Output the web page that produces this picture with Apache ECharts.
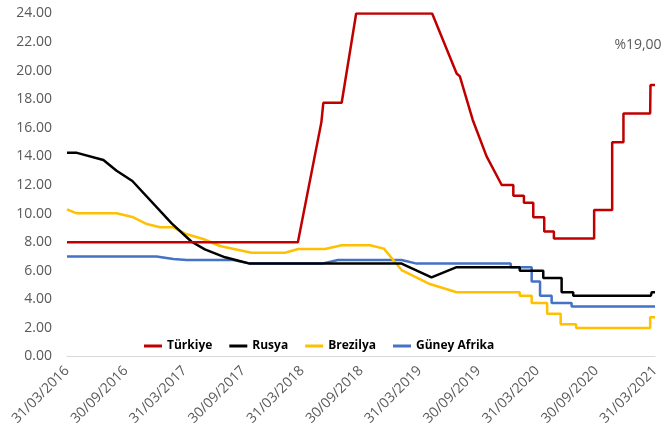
<!DOCTYPE html>
<html>
<head>
<meta charset="utf-8">
<script src="https://cdn.jsdelivr.net/npm/echarts@6/dist/echarts.min.js"></script>
<style>
html,body{margin:0;padding:0;background:#fff;}
#c{width:665px;height:441px;}
</style>
</head>
<body>
<div id="c"></div>
<script>
// ---- data ----
var seriesNames = ['Türkiye', 'Rusya', 'Brezilya', 'Güney Afrika'];
var tickLabels = ['31/03/2016','30/09/2016','31/03/2017','30/09/2017','31/03/2018','30/09/2018',
                  '31/03/2019','30/09/2019','31/03/2020','30/09/2020','31/03/2021'];
var yTicks = [0, 24, 2];

var turkiye = [
  ['2016-03-31', 8], ['2018-03-18', 8], ['2018-05-30', 16.4], ['2018-06-05', 17.75],
  ['2018-08-01', 17.75], ['2018-09-15', 24], ['2019-05-09', 24], ['2019-07-24', 19.8],
  ['2019-08-03', 19.6], ['2019-09-12', 16.55], ['2019-10-25', 14.0], ['2019-12-11', 12.0],
  ['2020-01-16', 12.0], ['2020-01-16', 11.25], ['2020-02-18', 11.25], ['2020-02-18', 10.75],
  ['2020-03-18', 10.75], ['2020-03-18', 9.75], ['2020-04-21', 9.75], ['2020-04-21', 8.75],
  ['2020-05-21', 8.75], ['2020-05-21', 8.25], ['2020-09-23', 8.25], ['2020-09-23', 10.25],
  ['2020-11-18', 10.25], ['2020-11-18', 15], ['2020-12-23', 15], ['2020-12-23', 17],
  ['2021-03-16', 17], ['2021-03-17', 19], ['2021-03-31', 19]
];
var rusya = [
  ['2016-03-31', 14.25], ['2016-05-01', 14.25], ['2016-07-22', 13.75], ['2016-09-01', 13.0],
  ['2016-10-20', 12.28], ['2017-02-19', 9.32], ['2017-04-22', 8.03], ['2017-06-02', 7.5],
  ['2017-08-04', 6.94], ['2017-10-20', 6.5], ['2019-02-03', 6.5], ['2019-05-07', 5.54],
  ['2019-07-24', 6.25], ['2020-02-05', 6.25], ['2020-02-05', 6.0], ['2020-04-18', 6.0],
  ['2020-04-18', 5.5], ['2020-06-14', 5.5], ['2020-06-14', 4.5], ['2020-07-20', 4.5],
  ['2020-07-20', 4.25], ['2021-03-18', 4.25], ['2021-03-21', 4.5], ['2021-03-31', 4.5]
];
var brezilya = [
  ['2016-03-31', 10.3], ['2016-04-30', 10.02], ['2016-09-01', 10.02], ['2016-10-23', 9.74],
  ['2016-12-04', 9.27], ['2017-01-14', 9.04], ['2017-02-24', 9.04], ['2017-04-07', 8.55],
  ['2017-05-28', 8.22], ['2017-07-19', 7.73], ['2017-10-25', 7.26], ['2018-02-06', 7.26],
  ['2018-03-19', 7.52], ['2018-06-10', 7.52], ['2018-08-01', 7.78], ['2018-10-28', 7.78],
  ['2018-12-10', 7.55], ['2019-02-03', 6.05], ['2019-05-02', 5.07], ['2019-07-24', 4.5],
  ['2020-02-05', 4.5], ['2020-02-05', 4.25], ['2020-03-13', 4.25], ['2020-03-13', 3.75],
  ['2020-04-30', 3.75], ['2020-04-30', 3.0], ['2020-06-11', 3.0], ['2020-06-11', 2.25],
  ['2020-07-29', 2.25], ['2020-07-29', 2.0], ['2021-03-16', 2.0], ['2021-03-16', 2.75],
  ['2021-03-31', 2.75]
];
var guneyAfrika = [
  ['2016-03-31', 7.0], ['2017-01-03', 7.0], ['2017-02-24', 6.82], ['2017-04-07', 6.75],
  ['2017-08-29', 6.75], ['2017-10-20', 6.5], ['2018-05-31', 6.5], ['2018-07-21', 6.75],
  ['2019-02-03', 6.75], ['2019-03-22', 6.5], ['2020-01-08', 6.5], ['2020-01-08', 6.25],
  ['2020-03-13', 6.25], ['2020-03-13', 5.25], ['2020-04-08', 5.25], ['2020-04-08', 4.25],
  ['2020-05-14', 4.25], ['2020-05-14', 3.75], ['2020-07-15', 3.75], ['2020-07-15', 3.5],
  ['2021-03-31', 3.5]
];
var colors = ['#C00000', '#000000', '#FFC000', '#4472C4'];

// ---- build ----
function parseDMY(s) { var p = s.split('/'); return Date.UTC(+p[2], +p[1] - 1, +p[0]); }
function parseYMD(s) { var p = s.split('-'); return Date.UTC(+p[0], +p[1] - 1, +p[2]); }
var tickVals = tickLabels.map(parseDMY);
function toData(arr) { return arr.map(function (d) { return [parseYMD(d[0]), d[1]]; }); }
var font = 'Open Sans';
var gray = '#595959';

var allData = [turkiye, rusya, brezilya, guneyAfrika];
var series = allData.map(function (arr, i) {
  var data = toData(arr);
  var s = {
    name: seriesNames[i], type: 'line', data: data, showSymbol: false, symbol: 'none',
    lineStyle: { color: colors[i], width: 2.5 }, itemStyle: { color: colors[i] },
    animation: false, z: 10 - i
  };
  if (i === 0) {
    var last = data[data.length - 1];
    s.markPoint = {
      symbol: 'circle', symbolSize: 0, animation: false,
      label: {
        show: true, position: 'top', distance: 0, offset: [-17, -33],
        fontFamily: font, fontSize: 14, color: gray,
        formatter: function (p) { return '%' + p.value.toFixed(2).replace('.', ','); }
      },
      data: [{ coord: last, value: last[1] }]
    };
  }
  return s;
});

var chart = echarts.init(document.getElementById('c'), null, { renderer: 'canvas' });
chart.setOption({
  backgroundColor: '#fff',
  animation: false,
  grid: { left: 67, right: 10, top: 13.5, bottom: 84.5, containLabel: false, outerBoundsMode: 'none' },
  legend: {
    left: 139, top: 335, itemWidth: 18, itemHeight: 3, itemGap: 17, icon: 'rect',
    textStyle: { fontFamily: font, fontSize: 12, fontWeight: 'bold', color: '#000' },
    data: seriesNames
  },
  xAxis: {
    type: 'value',
    min: tickVals[0], max: tickVals[tickVals.length - 1],
    axisLine: { show: true, onZero: false, lineStyle: { color: '#d9d9d9', width: 1 } },
    axisTick: { show: false },
    splitLine: { show: false },
    axisLabel: {
      customValues: tickVals, rotate: 45, margin: 12, color: gray,
      fontFamily: font, fontSize: 14, hideOverlap: false, showMinLabel: true, showMaxLabel: true,
      formatter: function (v) {
        var best = 0;
        for (var k = 0; k < tickVals.length; k++) {
          if (Math.abs(tickVals[k] - v) < Math.abs(tickVals[best] - v)) best = k;
        }
        return tickLabels[best];
      }
    }
  },
  yAxis: {
    type: 'value', min: yTicks[0], max: yTicks[1], interval: yTicks[2],
    axisLine: { show: false }, axisTick: { show: false }, splitLine: { show: false },
    axisLabel: { color: gray, fontFamily: font, fontSize: 14, margin: 15,
      formatter: function (v) { return v.toFixed(2); } }
  },
  series: series
});
</script>
</body>
</html>
